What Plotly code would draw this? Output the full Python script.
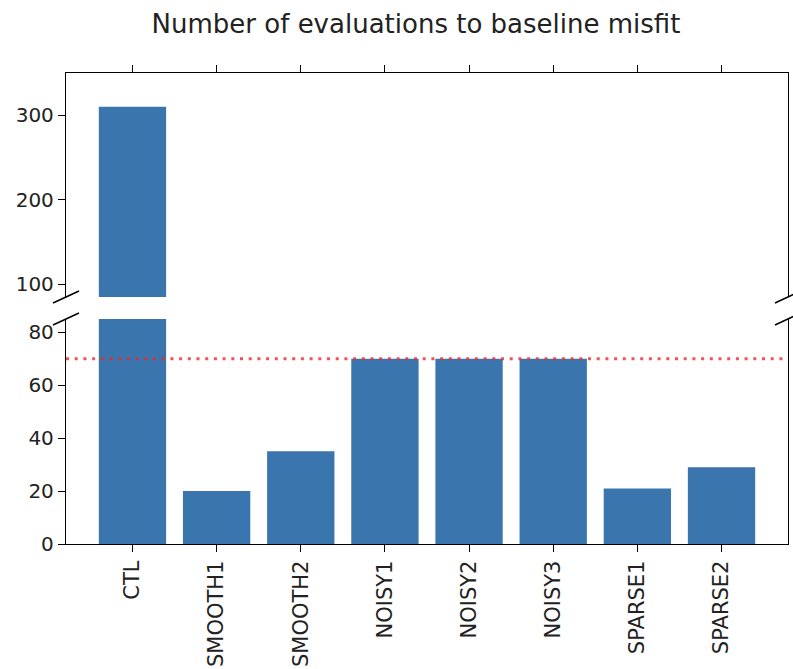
import plotly.graph_objects as go

categories = ["CTL", "SMOOTH1", "SMOOTH2", "NOISY1", "NOISY2", "NOISY3", "SPARSE1", "SPARSE2"]
evaluations = [310, 20, 35, 70, 70, 70, 21, 29]
baseline = 70
top_ticks = [100, 200, 300]
bottom_ticks = [0, 20, 40, 60, 80]

W, H = 793, 669
ml, mr, mt, mb = 66, 5, 73, 125
pw, ph = W - ml - mr, H - mt - mb

top_dom = [(544 - 297) / ph, 1.0]
bot_dom = [0.0, (544 - 319) / ph]

bar_color = "#3a75ae"
yfont = dict(family="DejaVu Sans", size=20, color="#222222")
xfont = dict(family="DejaVu Sans", size=21, color="#222222")

fig = go.Figure()
fig.add_trace(go.Bar(x=categories, y=evaluations, xaxis="x", yaxis="y",
                     marker=dict(color=bar_color, line=dict(width=0)), showlegend=False))
fig.add_trace(go.Bar(x=categories, y=evaluations, xaxis="x2", yaxis="y2",
                     marker=dict(color=bar_color, line=dict(width=0)), showlegend=False))

axis_common = dict(showline=True, linecolor="black", linewidth=1.3, ticks="outside",
                   ticklen=7, tickwidth=1.3, tickcolor="black", showgrid=False,
                   zeroline=False)

xr = [-0.79, 7.79]
fig.update_layout(
    width=W, height=H,
    margin=dict(l=ml, r=mr, t=mt, b=mb),
    plot_bgcolor="white", paper_bgcolor="white",
    bargap=0.2,
    font=yfont,
    title=dict(text="Number of evaluations to baseline misfit",
               font=dict(family="DejaVu Sans", size=26, color="#222222"),
               x=416 / W, xanchor="center", xref="container",
               y=1 - 23.5 / H, yanchor="middle", yref="container"),
    xaxis=dict(**axis_common, domain=[0, 1], range=xr, anchor="y", side="bottom",
               tickangle=-90, automargin=False, type="category", tickfont=xfont),
    yaxis=dict(**axis_common, domain=bot_dom, range=[0, 85], tickvals=bottom_ticks,
               mirror=True, anchor="x", automargin=False, tickfont=yfont),
    xaxis2=dict(**axis_common, domain=[0, 1], range=xr, anchor="y2", side="top",
                showticklabels=False, matches="x", type="category"),
    yaxis2=dict(**axis_common, domain=top_dom, range=[85, 350], tickvals=top_ticks,
                mirror=True, anchor="x2", automargin=False, tickfont=yfont),
)

# baseline misfit line
fig.add_shape(type="line", xref="x domain", x0=0, x1=1, yref="y", y0=baseline, y1=baseline,
              line=dict(color="rgba(240,40,40,0.8)", width=3, dash="3px,5.7px"))

# broken-axis diagonal marks
dx, dy = 13 / pw, 6 / ph
for xc in (0.0, 1.0):
    for yc in (top_dom[0], bot_dom[1]):
        fig.add_shape(type="line", xref="paper", yref="paper",
                      x0=xc - dx, y0=yc - dy, x1=xc + dx, y1=yc + dy,
                      line=dict(color="black", width=1.5))

fig.write_html("out.html", config={"displayModeBar": False},
               post_script="document.body.style.margin='0';")
